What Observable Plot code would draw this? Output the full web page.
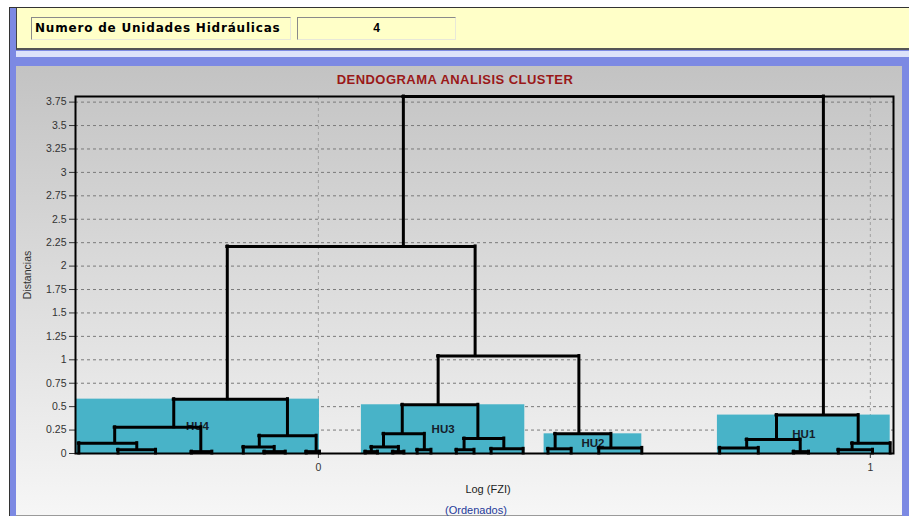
<!DOCTYPE html>
<html>
<head>
<meta charset="utf-8">
<script src="https://cdn.jsdelivr.net/npm/d3@7"></script>
<script src="https://cdn.jsdelivr.net/npm/@observablehq/plot@0.6"></script>
<style>
  html, body { margin: 0; padding: 0; }
  body { width: 909px; height: 518px; position: relative; overflow: hidden; background: #ffffff;
         font-family: "Liberation Sans", Arial, sans-serif; }
  .abs { position: absolute; }
  #outer { left: 9px; top: 7px; width: 899px; height: 508px; border-left: 1px solid #333; border-top: 1px solid #333; background: #7c89e3; }
  #yellow { left: 16px; top: 8px; width: 893px; height: 40px; background: #ffffc8; border-left: 1px solid #444; border-bottom: 2px solid #555; }
  #strip { left: 16px; top: 51px; width: 893px; height: 6px; background: #dde2fa; }
  #panel { left: 16px; top: 66px; width: 886px; height: 449px; background: linear-gradient(#c3c3c3, #f6f6f6); border-bottom: 1px solid #9a9a9a; }
  .box { height: 21px; line-height: 21px; border-top: 1px solid #8a8a8a; border-left: 1px solid #8a8a8a; border-bottom: 1px solid #e8e8d8; border-right: 1px solid #e8e8d8;
         background: #ffffc8; font-weight: bold; font-size: 12px; color: #000; }
  #box1 { left: 31px; top: 17px; width: 255px; padding-left: 3px; font-family: "DejaVu Sans", sans-serif; letter-spacing: 0.8px; }
  #box2 { left: 297px; top: 17px; width: 157px; text-align: center; }
  #title { left: 0; top: 72px; width: 910px; text-align: center; font-weight: bold; font-size: 13px; letter-spacing: 0.45px; color: #9a1818; }
  #ylab { left: 27px; top: 275px; font-size: 10.5px; color: #333; transform: translate(-50%, -50%) rotate(-90deg); white-space: nowrap; }
  #xlab { left: 488px; top: 489px; font-size: 11px; color: #222; transform: translate(-50%, -50%); white-space: nowrap; }
  #xsub { left: 476px; top: 510px; font-size: 11px; color: #1f3a9a; transform: translate(-50%, -50%); white-space: nowrap; }
  #chart { left: 0; top: 66px; }
</style>
</head>
<body>
<div id="outer" class="abs"></div>
<div id="yellow" class="abs"></div>
<div id="strip" class="abs"></div>
<div id="panel" class="abs"></div>
<div id="box1" class="abs box">Numero de Unidades Hidráulicas</div>
<div id="box2" class="abs box">4</div>
<div id="chart" class="abs"></div>
<div id="title" class="abs">DENDOGRAMA ANALISIS CLUSTER</div>
<div id="ylab" class="abs">Distancias</div>
<div id="xlab" class="abs">Log (FZI)</div>
<div id="xsub" class="abs">(Ordenados)</div>
<script>
// ---- Data: dendrogram nodes (id, parent, Log FZI position, merge distance) ----
const nodeIds = ["R","L","HU1","HU4","M","HU3","HU2",
  "A","B","A1","A2","a1","A1b","a2","a3","a4","a5","B1","B2","b1","B1b","b2","b3","b4","b5",
  "C","D","C1","C2","C1a","C1b","c1","c2","c3","c4","c5","c6","D1","D2","d1","d2","d3","d4",
  "H2a","H2b","e1","e2","e3","e4",
  "E","F","E1","E2","f1","f2","f3","f4","F1","f5","f6","f7"];
const nodeParents = [null,"R","R","L","L","M","M",
  "HU4","HU4","A","A","A1","A1","A1b","A1b","A2","A2","B","B","B1","B1","B1b","B1b","B2","B2",
  "HU3","HU3","C","C","C1","C1","C1a","C1a","C1b","C1b","C2","C2","D","D","D1","D1","D2","D2",
  "HU2","HU2","H2a","H2a","H2b","H2b",
  "HU1","HU1","E","E","E1","E1","E2","E2","F","F","F1","F1"];
const nodeLogFZI = [0.535,0.154,0.915,-0.165,0.284,0.217,0.472,
  -0.262,-0.056,-0.369,-0.213,-0.434,-0.329,-0.363,-0.295,-0.230,-0.193,-0.107,-0.004,-0.136,-0.080,-0.098,-0.060,-0.022,0.002,
  0.152,0.289,0.118,0.192,0.096,0.145,0.085,0.107,0.135,0.155,0.179,0.204,0.264,0.336,0.250,0.282,0.313,0.371,
  0.429,0.530,0.416,0.458,0.508,0.586,
  0.830,0.978,0.776,0.873,0.727,0.797,0.861,0.888,0.967,1.036,0.942,1.004];
const nodeDistance = [3.81,2.21,0.41,0.58,1.04,0.52,0.21,
  0.28,0.19,0.11,0.02,0,0.04,0,0,0,0,0.07,0.02,0,0.02,0,0,0,0,
  0.21,0.16,0.07,0.04,0.02,0.02,0,0,0,0,0,0,0.04,0.05,0,0,0,0,
  0.05,0.06,0,0,0,0,
  0.15,0.11,0.06,0.02,0,0,0,0,0.04,0,0,0];

// ---- Hydraulic units (clusters) ----
const clusterNames = ["HU4","HU3","HU2","HU1"];
const clusterFrom = [-0.44, 0.078, 0.409, 0.723];
const clusterTo = [0.002, 0.374, 0.586, 1.036];

// ---- Axis ticks ----
const yTicks = [0,0.25,0.5,0.75,1,1.25,1.5,1.75,2,2.25,2.5,2.75,3,3.25,3.5,3.75];
const yTickLabels = ["0","0.25","0.5","0.75","1","1.25","1.5","1.75","2","2.25","2.5","2.75","3","3.25","3.5","3.75"];
const xTicks = [0, 1];
const xTickLabels = ["0", "1"];

// ---- Build tables ----
const nodes = nodeIds.map((id, i) => ({id, parent: nodeParents[i], x: nodeLogFZI[i], d: nodeDistance[i]}));
const byId = new Map(nodes.map(n => [n.id, n]));
const verticals = nodes.filter(n => n.parent).map(n => ({x: n.x, y1: n.d, y2: byId.get(n.parent).d}));
const horizontals = nodes.filter(n => nodes.some(c => c.parent === n.id)).map(n => {
  const kids = nodes.filter(c => c.parent === n.id).map(c => c.x);
  return {y: n.d, x1: d3.min(kids), x2: d3.max(kids)};
});
const clusters = clusterNames.map((name, i) => ({
  name, x1: clusterFrom[i], x2: clusterTo[i], h: byId.get(name).d
}));

const chart = Plot.plot({
  width: 909,
  height: 452,
  marginLeft: 75,
  marginRight: 16,
  marginTop: 30,
  marginBottom: 65,
  style: {background: "transparent", fontSize: "10.5px", fontFamily: "'Liberation Sans', Arial, sans-serif", color: "#333", overflow: "visible"},
  x: {domain: [-0.44, 1.042], ticks: xTicks, tickFormat: d => xTickLabels[xTicks.indexOf(d)], tickSize: 5, tickPadding: 5, label: null},
  y: {domain: [0, 3.81], ticks: yTicks, tickFormat: d => yTickLabels[yTicks.indexOf(d)], tickSize: 6, tickPadding: 3, label: null},
  marks: [
    Plot.ruleY(yTicks, {stroke: "#7a7a7a", strokeDasharray: "3,3", strokeWidth: 1}),
    Plot.ruleX(xTicks, {stroke: "#a0a0a0", strokeDasharray: "3,3", strokeWidth: 1}),
    Plot.rectY(clusters, {x1: "x1", x2: "x2", y1: 0, y2: "h", fill: "#48b3c8"}),
    Plot.text(clusters, {x: d => (d.x1 + d.x2) / 2, y: d => d.h / 2, text: "name", fill: "#15202a", fontWeight: "bold", fontSize: 11.5}),
    Plot.ruleX(verticals, {x: "x", y1: "y1", y2: "y2", stroke: "#000", strokeWidth: 3, strokeLinecap: "square"}),
    Plot.ruleY(horizontals, {y: "y", x1: "x1", x2: "x2", stroke: "#000", strokeWidth: 3, strokeLinecap: "square"}),
    Plot.frame({stroke: "#000", strokeWidth: 2})
  ]
});
document.getElementById("chart").appendChild(chart);
</script>
</body>
</html>
